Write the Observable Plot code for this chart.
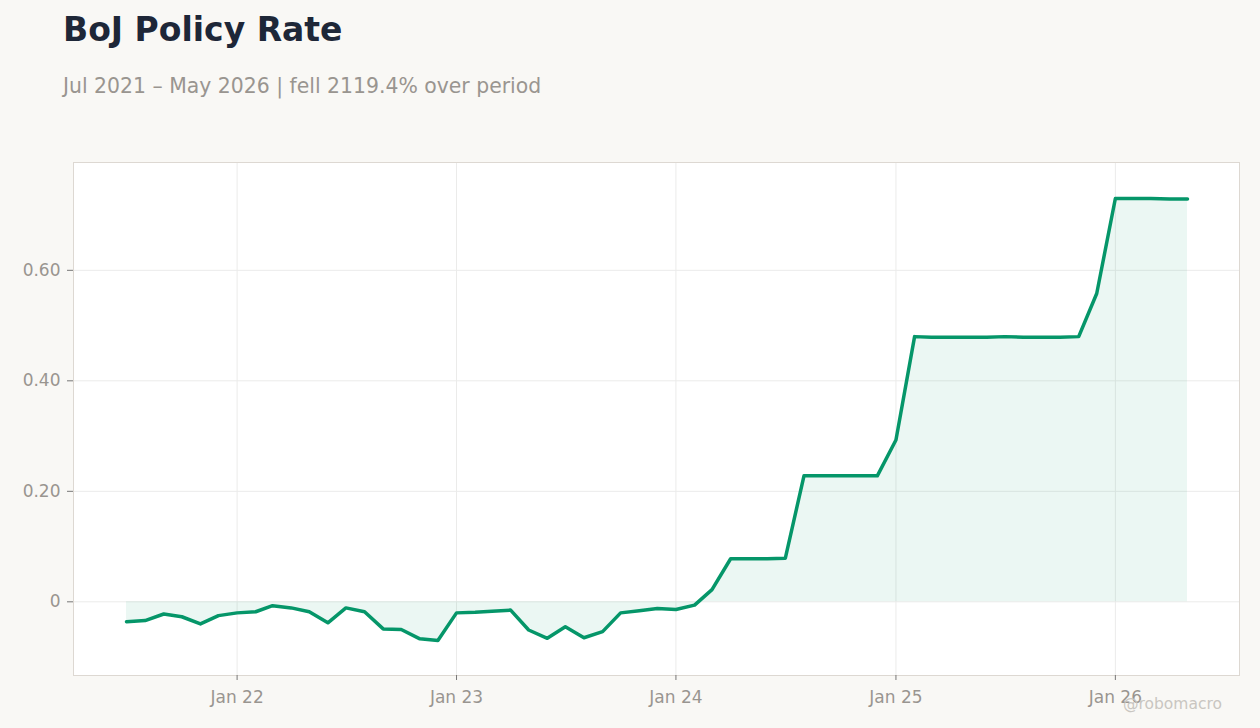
<!DOCTYPE html>
<html>
<head>
<meta charset="utf-8">
<script src="https://cdn.jsdelivr.net/npm/d3@7"></script>
<script src="https://cdn.jsdelivr.net/npm/@observablehq/plot@0.6"></script>
<style>
  html, body { margin: 0; padding: 0; background: #f9f8f5; }
  body { width: 1260px; height: 728px; position: relative; overflow: hidden; font-family: "DejaVu Sans", sans-serif; }
  #title { position: absolute; left: 63px; top: 10px; font-size: 33px; font-weight: bold; color: #1e2738; line-height: 40px; }
  #subtitle { position: absolute; left: 63px; top: 74px; font-size: 20.4px; color: #999590; line-height: 24px; }
  #chart { position: absolute; left: 0; top: 140px; }
  #credit { position: absolute; right: 38px; top: 695px; font-size: 15.5px; color: #c9c6c1; }
</style>
</head>
<body>
<div id="title">BoJ Policy Rate</div>
<div id="subtitle">Jul 2021 – May 2026 | fell 2119.4% over period</div>
<div id="chart"></div>
<div id="credit">@robomacro</div>
<script>
const months = [
  "2021-07","2021-08","2021-09","2021-10","2021-11","2021-12",
  "2022-01","2022-02","2022-03","2022-04","2022-05","2022-06",
  "2022-07","2022-08","2022-09","2022-10","2022-11","2022-12",
  "2023-01","2023-02","2023-03","2023-04","2023-05","2023-06",
  "2023-07","2023-08","2023-09","2023-10","2023-11","2023-12",
  "2024-01","2024-02","2024-03","2024-04","2024-05","2024-06",
  "2024-07","2024-08","2024-09","2024-10","2024-11","2024-12",
  "2025-01","2025-02","2025-03","2025-04","2025-05","2025-06",
  "2025-07","2025-08","2025-09","2025-10","2025-11","2025-12",
  "2026-01","2026-02","2026-03","2026-04","2026-05"
];
const rates = [
  -0.036,-0.034,-0.022,-0.027,-0.040,-0.025,
  -0.020,-0.018,-0.007,-0.011,-0.018,-0.038,
  -0.011,-0.018,-0.049,-0.050,-0.067,-0.070,
  -0.020,-0.019,-0.017,-0.015,-0.051,-0.066,
  -0.045,-0.065,-0.054,-0.020,-0.016,-0.012,
  -0.014,-0.006,0.022,0.078,0.078,0.078,
  0.079,0.228,0.228,0.228,0.228,0.228,
  0.293,0.480,0.479,0.479,0.479,0.479,
  0.480,0.479,0.479,0.479,0.480,0.558,
  0.730,0.730,0.730,0.729,0.729
];
const yTicks = [0, 0.2, 0.4, 0.6];
const xTicks = ["2022-01","2023-01","2024-01","2025-01","2026-01"];

const parse = d3.utcParse("%Y-%m");
const data = months.map((m, i) => ({date: parse(m), rate: rates[i]}));
const color = "#059669";
const xFmt = d3.utcFormat("Jan %y");
const yFmt = d => d === 0 ? "0" : d.toFixed(2);

const chart = Plot.plot({
  width: 1260,
  height: 588,
  marginLeft: 73,
  marginRight: 21,
  marginTop: 22,
  marginBottom: 53,
  insetLeft: 53,
  insetRight: 52,
  insetTop: 36,
  insetBottom: 35,
  style: {background: "transparent", fontFamily: "DejaVu Sans, sans-serif", fontSize: "17px", color: "#999590"},
  x: {type: "utc", label: null},
  y: {label: null},
  marks: [
    Plot.frame({fill: "white", stroke: null}),
    Plot.gridX(xTicks.map(parse), {stroke: "#ebebea", strokeOpacity: 1}),
    Plot.gridY(yTicks, {stroke: "#ebebea", strokeOpacity: 1}),
    Plot.areaY(data, {x: "date", y: "rate", fill: color, fillOpacity: 0.08}),
    Plot.lineY(data, {x: "date", y: "rate", stroke: color, strokeWidth: 3.5, strokeLinejoin: "round"}),
    Plot.frame({stroke: "#ddd8d2", strokeWidth: 1}),
    Plot.axisX({ticks: xTicks.map(parse), tickFormat: xFmt, tickSize: 5, tickPadding: 10, stroke: "#777", fill: "#999590", fontSize: 17}),
    Plot.axisY({ticks: yTicks, tickFormat: yFmt, tickSize: 6, tickPadding: 7, stroke: "#777", fill: "#999590", fontSize: 17})
  ]
});
document.getElementById("chart").appendChild(chart);
</script>
</body>
</html>
